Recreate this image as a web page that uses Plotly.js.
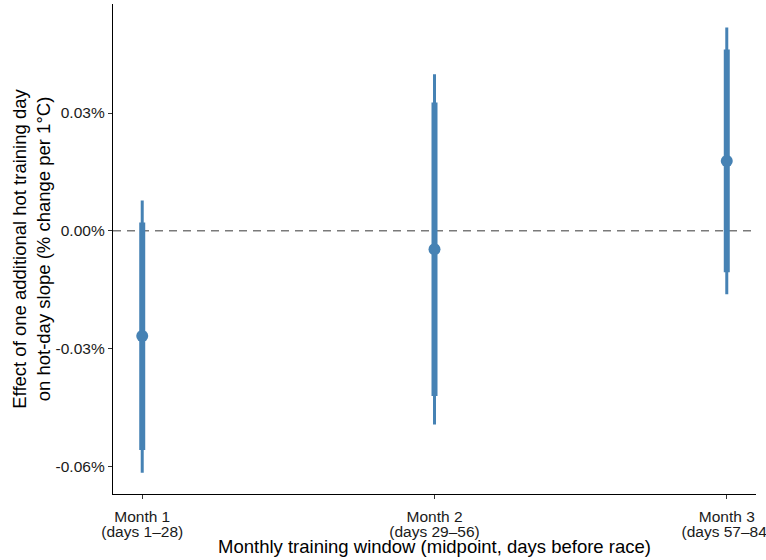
<!DOCTYPE html>
<html>
<head>
<meta charset="utf-8">
<script src="https://cdn.plot.ly/plotly-3.0.1.min.js"></script>
<style>html,body{margin:0;padding:0;background:#fff;overflow:hidden;}#chart{width:766px;height:560px;}</style>
</head>
<body>
<div id="chart"></div>
<script>
// Data (effects in percent units)
const monthLabels = ["Month 1", "Month 2", "Month 3"];
const dayLabels = ["(days 1–28)", "(days 29–56)", "(days 57–84)"];
const positions = [0, 1, 2];
const estimate = [-0.0268, -0.0047, 0.0178];
const ci95Low = [-0.0617, -0.0494, -0.0162];
const ci95High = [0.0077, 0.0399, 0.0518];
const ciInnerLow = [-0.0559, -0.0421, -0.0106];
const ciInnerHigh = [0.0021, 0.0327, 0.0462];
const yTickVals = [-0.06, -0.03, 0, 0.03];
const yTickText = ["-0.06%", "-0.03%", "0.00%", "0.03%"];

const blue = "#4682B4";
const up = (hi) => hi.map((h, i) => h - estimate[i]);
const down = (lo) => lo.map((l, i) => estimate[i] - l);

const traces = [
  {
    x: positions, y: estimate, type: "scatter", mode: "markers",
    marker: {size: 0.1, color: blue, opacity: 0},
    error_y: {type: "data", symmetric: false, array: up(ci95High), arrayminus: down(ci95Low),
              width: 0, thickness: 3, color: blue},
    hoverinfo: "skip", showlegend: false
  },
  {
    x: positions, y: estimate, type: "scatter", mode: "markers",
    marker: {size: 0.1, color: blue, opacity: 0},
    error_y: {type: "data", symmetric: false, array: up(ciInnerHigh), arrayminus: down(ciInnerLow),
              width: 0, thickness: 6, color: blue},
    hoverinfo: "skip", showlegend: false
  },
  {
    x: positions, y: estimate, type: "scatter", mode: "markers",
    marker: {size: 12, color: blue},
    showlegend: false
  },
  {
    // invisible trace to activate the second-line label axis
    x: positions, y: estimate, xaxis: "x2", yaxis: "y", type: "scatter", mode: "markers",
    marker: {size: 0.1, opacity: 0}, hoverinfo: "skip", showlegend: false
  }
];

const fam = "Liberation Sans, Arial, sans-serif";
const tickFont = {family: fam, size: 15.5, color: "#1a1a1a"};

const layout = {
  width: 766, height: 560,
  margin: {l: 113, r: 10, t: 4, b: 66},
  paper_bgcolor: "#ffffff", plot_bgcolor: "#ffffff",
  font: {family: fam, size: 15.5, color: "#1a1a1a"},
  showlegend: false,
  xaxis: {
    range: [-0.1, 2.1],
    tickvals: positions, ticktext: monthLabels,
    showgrid: false, zeroline: false,
    showline: true, linecolor: "#000000", linewidth: 1.2,
    ticks: "outside", ticklen: 4, tickcolor: "#333333", tickwidth: 1,
    tickfont: tickFont, ticklabeloverflow: "allow", ticklabelstandoff: 4,
    title: {text: "Monthly training window (midpoint, days before race)",
            font: {family: fam, size: 18.5, color: "#000000"}, standoff: 16},
    automargin: false
  },
  xaxis2: {
    overlaying: "x", anchor: "y", side: "bottom",
    range: [-0.1, 2.1],
    tickvals: positions, ticktext: dayLabels,
    showgrid: false, zeroline: false, showline: false,
    ticks: "", ticklabelstandoff: 26,
    tickfont: tickFont, ticklabeloverflow: "allow",
    automargin: false
  },
  yaxis: {
    range: [-0.0671, 0.0578],
    tickvals: yTickVals, ticktext: yTickText,
    showgrid: false, zeroline: false,
    showline: true, linecolor: "#000000", linewidth: 1.2,
    ticks: "outside", ticklen: 4, tickcolor: "#333333", tickwidth: 1,
    tickfont: tickFont,
    title: {text: "Effect of one additional hot training day<br>on hot-day slope (% change per 1°C)",
            font: {family: fam, size: 18.5, color: "#000000"}, standoff: 0},
    automargin: false
  },
  shapes: [{
    type: "line", xref: "paper", yref: "y", x0: 0, x1: 1, y0: 0, y1: 0,
    line: {color: "#7a7a7a", width: 1.6, dash: "8px,6px"}, layer: "below"
  }]
};

Plotly.newPlot("chart", traces, layout, {displayModeBar: false, staticPlot: true});
</script>
</body>
</html>
